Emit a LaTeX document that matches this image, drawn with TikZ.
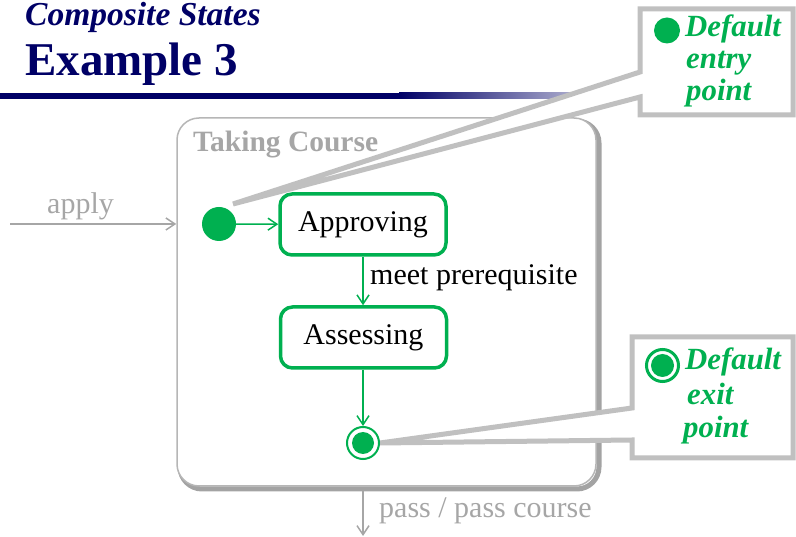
\documentclass[tikz,border=0pt]{standalone}
\usepackage{fontspec}
\setmainfont{Liberation Serif}
\usetikzlibrary{arrows.meta}
\definecolor{navy}{RGB}{0,0,102}
\definecolor{umlgreen}{RGB}{0,176,80}
\definecolor{framegray}{RGB}{182,182,182}
\definecolor{shadowgray}{RGB}{163,163,163}
\definecolor{calloutgray}{RGB}{192,192,192}
\definecolor{labelgray}{RGB}{166,166,166}
\begin{document}
\begin{tikzpicture}[x=1pt,y=-1pt,
  body/.style={font=\fontsize{30}{35}\selectfont},
  statebox/.style={body, draw=umlgreen, line width=3.5pt, rounded corners=12pt,
    fill=white, minimum width=166pt, minimum height=61pt, inner sep=0pt},
  garrow/.style={draw=umlgreen, line width=1.5pt,
    -{Straight Barb[length=9pt,width=12pt,line width=1.5pt]}},
  grayarrow/.style={draw=labelgray, line width=1.5pt,
    -{Straight Barb[length=9pt,width=12pt,line width=1.5pt]}},
  graylabel/.style={body, text=labelgray, inner sep=0pt, anchor=base west},
  callout/.style={draw=calloutgray, line width=5pt, fill=white, line join=miter},
  callouttext/.style={font=\fontsize{30.8}{35}\selectfont\bfseries\itshape,
    text=umlgreen, inner sep=0pt, anchor=base west},
]
\useasboundingbox (0,0) rectangle (796,537);

% heading
\node[font=\fontsize{33.5}{40}\selectfont\bfseries\itshape, text=navy,
  inner sep=0pt, anchor=base west] (subtitle) at (25,26) {Composite States};
\node[font=\fontsize{47}{56}\selectfont\bfseries, text=navy,
  inner sep=0pt, anchor=base west] (title) at (25,76) {Example 3};
\fill[navy] (0,93) rectangle (400,99);
\shade[left color=navy, right color=white] (399,93) rectangle (660,99);

% composite state with its drop shadow
\coordinate (passEnd) at (363,536);
\node[draw=shadowgray, line width=5pt, rounded corners=22pt,
  minimum width=419pt, minimum height=368pt, inner sep=0pt] (courseShadow) at (389.5,305) {};
\draw[grayarrow] (courseShadow.south -| passEnd) -- (passEnd);
\node[draw=framegray, line width=1.5pt, fill=white, rounded corners=22pt,
  minimum width=419pt, minimum height=368pt, inner sep=0pt] (course) at (386.5,302) {};
\node[font=\fontsize{29.5}{34}\selectfont\bfseries, text=labelgray,
  inner sep=0pt, anchor=base west] (courseName) at (193,152) {Taking Course};

% incoming and outgoing transitions
\coordinate (applyStart) at (10,224);
\draw[grayarrow] (applyStart) -- (course.west |- applyStart);
\node[graylabel] (applyLabel) at (47,214) {apply};
\node[graylabel] (passLabel) at (379,517) {pass / pass course};

% callout: default entry point
\draw[callout] (640,72) -- (640,9) -- (793,9) -- (793,115) -- (640,115)
  -- (640,97) -- (233,204) -- cycle;
\fill[umlgreen] (667,30.5) circle[radius=13];
\node[callouttext] (entry1) at (685,37) {Default};
\node[callouttext] (entry2) at (686,69) {entry};
\node[callouttext] (entry3) at (686,101) {point};

% callout: default exit point
\draw[callout] (632,408) -- (632,337) -- (793,337) -- (793,458) -- (632,458)
  -- (632,440) -- (380,443) -- cycle;
\draw[umlgreen, line width=3pt] (662.5,365.5) circle[radius=16];
\fill[umlgreen] (662.5,365.5) circle[radius=11.5];
\node[callouttext] (exit1) at (685,370) {Default};
\node[callouttext] (exit2) at (687,405) {exit};
\node[callouttext] (exit3) at (683,438) {point};

% inner states
\node[circle, fill=umlgreen, minimum size=34pt, inner sep=0pt] (init) at (219,224) {};
\node[statebox] (approving) at (363,224.5) {Approving};
\node[statebox] (assessing) at (363.5,337.5) {Assessing};
\node[circle, draw=umlgreen, line width=2pt, fill=white, minimum size=32pt,
  inner sep=0pt] (final) at (363,443) {};
\fill[umlgreen] (final.center) circle[radius=11];

\draw[garrow] (init) -- (approving);
\draw[garrow] (approving.south -| final) -- (assessing.north -| final);
\node[body, inner sep=0pt, anchor=base west] (guard) at (370,285) {meet prerequisite};
\draw[garrow] (assessing.south -| final) -- (final);
\end{tikzpicture}
\end{document}
